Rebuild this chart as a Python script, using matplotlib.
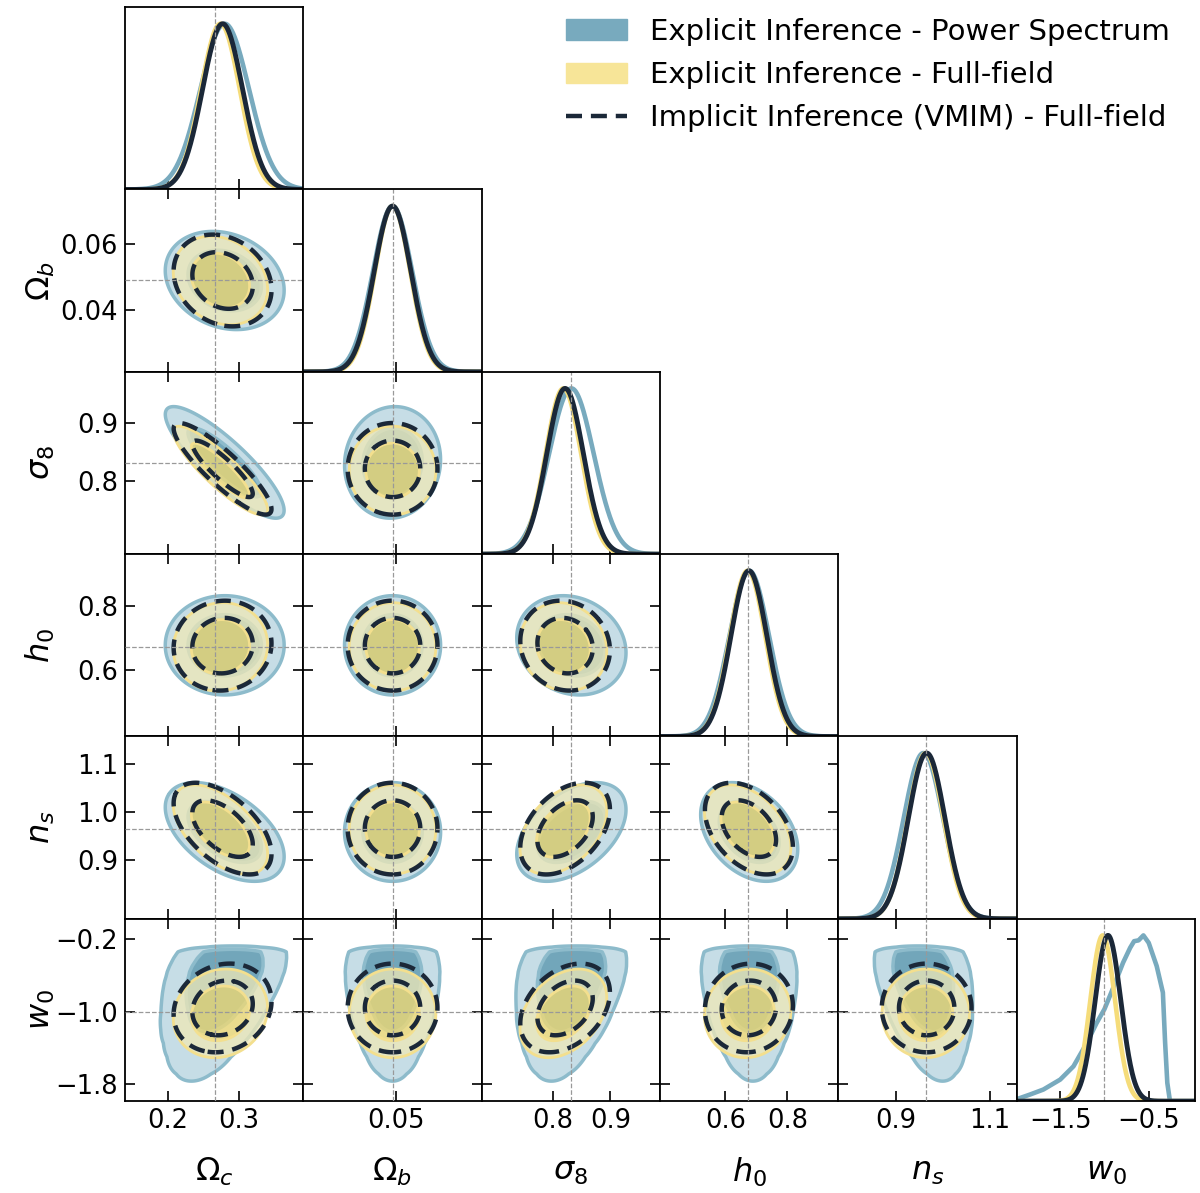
import numpy as np
import matplotlib
matplotlib.use("Agg")
import matplotlib.pyplot as plt
from matplotlib.patches import Patch
from matplotlib.lines import Line2D

## parameters, truth values and axis ranges
labels = [r"$\Omega_c$", r"$\Omega_b$", r"$\sigma_8$", r"$h_0$", r"$n_s$", r"$w_0$"]
truth = [0.2664, 0.0492, 0.831, 0.6727, 0.9645, -1.0]
lims = [(0.14, 0.39), (0.0212, 0.0767), (0.675, 0.987),
        (0.389, 0.965), (0.777, 1.157), (-1.99, 0.025)]
xticks = [[0.2, 0.3], [0.05], [0.8, 0.9], [0.6, 0.8], [0.9, 1.1], [-1.5, -0.5]]
yticks = [[], [0.04, 0.06], [0.8, 0.9], [0.6, 0.8], [0.9, 1.0, 1.1], [-1.8, -1.0, -0.2]]

## chain summaries
mean_ps = [0.280, 0.049, 0.832, 0.677, 0.958, -0.60]
sig_ps = [0.034, 0.0061, 0.039, 0.064, 0.042, 0.40]
mean_ff = [0.274, 0.049, 0.818, 0.672, 0.963, -1.02]
sig_ff = [0.027, 0.0055, 0.031, 0.057, 0.038, 0.20]
mean_vm = [0.277, 0.049, 0.821, 0.676, 0.965, -0.96]
sig_vm = [0.028, 0.0057, 0.032, 0.058, 0.039, 0.20]
# w0 widths as drawn on the diagonal
sig1d_w0_ff = 0.14
sig1d_w0_vm = 0.145

# correlations, pairs in order (0,1),(0,2),...,(4,5)
rho_ps = [-0.2, -0.86, 0.0, -0.5, 0.0, 0.05, 0.0, 0.0, 0.0, -0.15, 0.45, 0.0, -0.35, 0.0, 0.0]
rho_ff = [-0.2, -0.88, 0.05, -0.55, 0.12, 0.0, 0.0, 0.0, 0.0, -0.1, 0.42, 0.35, -0.4, 0.05, 0.0]
rho_vm = [-0.2, -0.88, 0.05, -0.55, 0.15, 0.0, 0.0, 0.0, 0.0, -0.1, 0.42, 0.35, -0.4, 0.05, 0.0]

# power spectrum w0 marginal
w0_ps_x = [-2.0, -1.84, -1.69, -1.5, -1.35, -1.2, -1.09, -1.0, -0.9, -0.79, -0.71,
           -0.665, -0.615, -0.56, -0.5, -0.41, -0.34, -0.315, -0.29, -0.26, 0.0]
w0_ps_y = [0.01, 0.04, 0.07, 0.13, 0.21, 0.35, 0.47, 0.555, 0.685, 0.835, 0.925,
           0.965, 0.97, 1.0, 0.955, 0.815, 0.655, 0.355, 0.11, 0.0, 0.0]
# shift of the power spectrum centre per unit w0 (Oc, Ob, s8, h0, ns)
slope_ps = [0.04, 0.0, 0.03, -0.01, -0.035]

pairs = [(a, b) for a in range(6) for b in range(a + 1, 6)]

c_ps_out, c_ps_in, c_ps_line = "#c6dde6", "#72a6ba", "#8dbbcb"
c_ff_out, c_ff_in, c_ff_line = "#efe8b6", "#f5db70", "#f3df8e"
c_ps1, c_ff1, c_vm = "#78aabe", "#f5dc7a", "#1b2838"
dash = (0, (3.6, 2.0))


def hpd(Z):
    z = np.sort(Z.ravel())[::-1]
    c = np.cumsum(z)
    c /= c[-1]
    return [z[np.searchsorted(c, 0.95)], z[np.searchsorted(c, 0.68)]]


def dens(mean, sig, rho, i, j, n=260):
    # density of param j (x) and param i (y)
    x = np.linspace(mean[j] - 4.5 * sig[j], mean[j] + 4.5 * sig[j], n)
    y = np.linspace(mean[i] - 4.5 * sig[i], mean[i] + 4.5 * sig[i], n)
    X, Y = np.meshgrid(x, y)
    r = rho[pairs.index((j, i))]
    u = (X - mean[j]) / sig[j]
    v = (Y - mean[i]) / sig[i]
    return X, Y, np.exp(-0.5 * (u * u - 2 * r * u * v + v * v) / (1 - r * r))


def dens_ps_w0(j, n=300):
    x = np.linspace(mean_ps[j] - 4.5 * sig_ps[j], mean_ps[j] + 4.5 * sig_ps[j], n)
    y = np.linspace(-2.0, 0.0, n)
    X, Y = np.meshgrid(x, y)
    cen = mean_ps[j] + slope_ps[j] * (Y - mean_ps[5])
    Z = np.interp(Y, w0_ps_x, w0_ps_y) * np.exp(-0.5 * ((X - cen) / sig_ps[j]) ** 2)
    return X, Y, Z


fig, axes = plt.subplots(6, 6, figsize=(12, 11.93), dpi=100)
fig.subplots_adjust(left=0.104, right=0.996, bottom=0.077, top=0.994, wspace=0, hspace=0)

for i in range(6):
    for j in range(6):
        ax = axes[i, j]
        if j > i:
            ax.set_visible(False)
            continue
        for s in ax.spines.values():
            s.set_linewidth(1.3)
        ax.set_xlim(lims[j])
        if i == j:
            # 1D marginals
            x = np.linspace(lims[i][0], lims[i][1], 400)
            if i == 5:
                ax.plot(w0_ps_x, w0_ps_y, color=c_ps1, lw=3.3)
                sf, sv = sig1d_w0_ff, sig1d_w0_vm
            else:
                ax.plot(x, np.exp(-0.5 * ((x - mean_ps[i]) / sig_ps[i]) ** 2), color=c_ps1, lw=3.3)
                sf, sv = sig_ff[i], sig_vm[i]
            ax.plot(x, np.exp(-0.5 * ((x - mean_ff[i]) / sf) ** 2), color=c_ff1, lw=3.3)
            ax.plot(x, np.exp(-0.5 * ((x - mean_vm[i]) / sv) ** 2), color=c_vm, lw=3.5)
            ax.axvline(truth[i], color="#999999", ls="--", lw=0.9)
            ax.set_ylim(0, 1.1)
            ax.set_yticks([])
            ax.set_xticks(xticks[i])
            ax.tick_params(direction="in", length=7, width=1.2, labelsize=18.5, pad=5)
            if i != 5:
                ax.tick_params(labelbottom=False)
            continue

        # 2D panels: x = param j, y = param i
        ax.set_ylim(lims[i])
        if i == 5:
            X, Y, Z = dens_ps_w0(j)
        else:
            X, Y, Z = dens(mean_ps, sig_ps, rho_ps, i, j)
        lv = hpd(Z)
        ax.contourf(X, Y, Z, levels=[lv[0], lv[1], Z.max() * 1.01],
                    colors=[c_ps_out, c_ps_in], zorder=1)
        ax.contour(X, Y, Z, levels=lv, colors=c_ps_line, linewidths=2.5, zorder=2)

        X, Y, Z = dens(mean_ff, sig_ff, rho_ff, i, j)
        lv = hpd(Z)
        ax.contourf(X, Y, Z, levels=[lv[0], lv[1], Z.max() * 1.01],
                    colors=[c_ff_out, c_ff_in], alpha=0.75, zorder=3)
        ax.contour(X, Y, Z, levels=lv, colors=c_ff_line, linewidths=2.0, zorder=4)

        X, Y, Z = dens(mean_vm, sig_vm, rho_vm, i, j)
        lv = hpd(Z)
        ax.contour(X, Y, Z, levels=lv, colors=c_vm, linewidths=3.2,
                   linestyles=[dash], zorder=5)

        ax.axvline(truth[j], color="#999999", ls="--", lw=0.9, zorder=6)
        ax.axhline(truth[i], color="#999999", ls="--", lw=0.9, zorder=6)
        ax.set_xticks(xticks[j])
        ax.set_yticks(yticks[i])
        ax.tick_params(direction="in", top=True, right=True, length=7, width=1.2,
                       labelsize=18.5, pad=5)
        if i != 5:
            ax.tick_params(labelbottom=False)
        if j != 0:
            ax.tick_params(labelleft=False)

for k in range(6):
    axes[5, k].set_xlabel(labels[k], fontsize=23)
    axes[5, k].xaxis.set_label_coords(0.5, -0.3)
for k in range(1, 6):
    axes[k, 0].set_ylabel(labels[k], fontsize=23)
    axes[k, 0].yaxis.set_label_coords(-0.38, 0.5)

handles = [Patch(color=c_ps1), Patch(color="#f7e598"),
           Line2D([], [], color=c_vm, lw=3.2, ls=dash)]
names = ["Explicit Inference - Power Spectrum", "Explicit Inference - Full-field",
         "Implicit Inference (VMIM) - Full-field"]
fig.legend(handles, names, loc="upper right", bbox_to_anchor=(0.997, 1.007),
           frameon=False, fontsize=21, handlelength=2.1, handletextpad=0.8,
           labelspacing=0.52)

fig.savefig("out.png", dpi=100)
